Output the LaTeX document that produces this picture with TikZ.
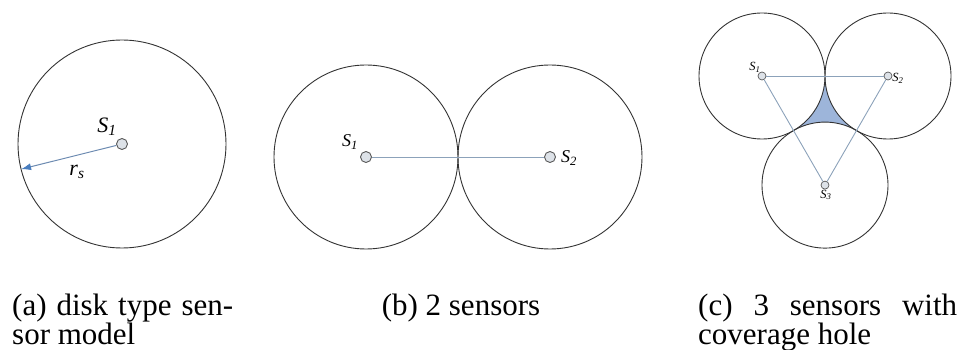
\documentclass[tikz,border=0pt]{standalone}
\usepackage{fontspec}
\setmainfont{Liberation Serif}
\usepackage{xcolor}
\usepackage{tikz}
\usetikzlibrary{arrows.meta,calc}
\definecolor{linkline}{HTML}{8CA2BA}
\definecolor{arrowshaft}{HTML}{6E8CB2}
\definecolor{radiusarrow}{HTML}{4A7EBF}
\definecolor{holefill}{HTML}{9DB5DA}
\definecolor{sensorfill}{HTML}{DDE2E8}
\newcommand{\sname}[1]{\textit{S}\textsubscript{\textit{#1}}}
\tolerance=9999

\begin{document}
\begin{tikzpicture}[
  x=1pt, y=-1pt,
  sensor/.style={circle, draw=black!65, fill=sensorfill, line width=0.9pt, inner sep=0pt, minimum size=11pt},
  smallsensor/.style={sensor, minimum size=8pt, line width=0.7pt},
  coverage/.style={draw=black!80, line width=0.9pt},
  link/.style={draw=linkline, line width=0.9pt},
  arr/.style={-{Latex[length=10pt, width=7pt, color=radiusarrow]}, draw=arrowshaft, line width=1pt},
  lbl/.style={font=\fontsize{22}{22}\selectfont, inner sep=0pt},
  lblb/.style={font=\fontsize{18}{18}\selectfont, inner sep=0pt},
  lblc/.style={font=\fontsize{12.5}{12.5}\selectfont, inner sep=0pt},
  caption/.style={font=\fontsize{31}{27}\selectfont, inner sep=0pt},
  longcaption/.style={caption, align=justify},
]
  \useasboundingbox (0,0) rectangle (962,350);

  % (a) one sensor
  \node[sensor] (s1a) at (122,144) {};
  \draw[coverage] (s1a.center) circle[radius=104];
  \coordinate (rima) at ($(s1a.center)+(166:104)$);
  \draw[arr] (s1a) -- (rima);
  \node[lbl] (l1a) at (107,127) {\sname{1}};
  \node[lbl] (rs)  at (77,172)  {\textit{r}\textsubscript{\textit{s}}};

  % (b) two sensors
  \node[sensor] (s1b) at (366,157) {};
  \node[sensor] (s2b) at (550,157) {};
  \draw[coverage] (s1b.center) circle[radius=92];
  \draw[coverage] (s2b.center) circle[radius=92];
  \draw[link] (s1b) -- (s2b);
  \node[lblb] (l1b) at (350,142) {\sname{1}};
  \node[lblb] (l2b) at (569,158) {\sname{2}};

  % (c) three sensors, hole in the middle
  \node[smallsensor] (s1c) at (762,76)    {};
  \node[smallsensor] (s2c) at (888,76)    {};
  \node[smallsensor] (s3c) at (825,185.1) {};
  \fill[holefill] (825,76) arc[start angle=180, end angle=120, radius=63]
                           arc[start angle=-60, end angle=-120, radius=63]
                           arc[start angle=60,  end angle=0,    radius=63] -- cycle;
  \foreach \s in {s1c,s2c,s3c}
    \draw[coverage] (\s.center) circle[radius=63];
  \draw[link] (s1c) -- (s2c);
  \draw[link] (s1c) -- (s3c);
  \draw[link] (s2c) -- (s3c);
  \node[lblc] (l1c) at (755,67)  {\sname{1}};
  \node[lblc] (l2c) at (898,78)  {\sname{2}};
  \node[lblc] (l3c) at (826,195) {\sname{3}};

  % captions
  \node[longcaption, text width=221pt, anchor=base west] (capa) at (12,315)  {(a) disk type sen\-sor model};
  \node[caption, anchor=base]                            (capb) at (461,315) {(b) 2 sensors};
  \node[longcaption, text width=259pt, anchor=base west] (capc) at (698,315) {(c) 3 sensors with coverage hole};
\end{tikzpicture}
\end{document}
